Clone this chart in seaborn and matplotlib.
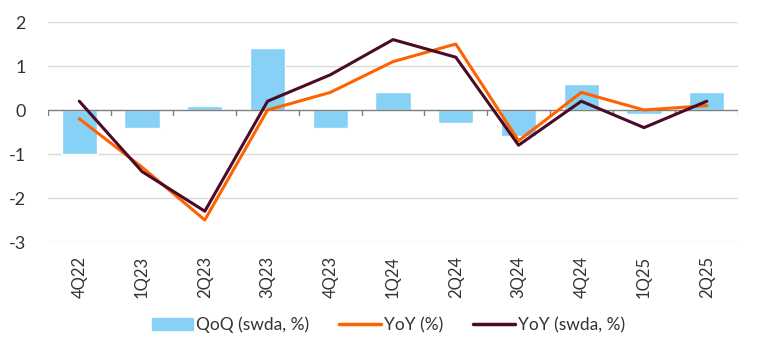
import pandas as pd
import matplotlib.pyplot as plt
import matplotlib.patches as patches
from matplotlib.lines import Line2D
import seaborn as sns
import numpy as np

quarters = ['4Q22', '1Q23', '2Q23', '3Q23', '4Q23', '1Q24', '2Q24', '3Q24', '4Q24', '1Q25', '2Q25']
qoq_swda = [-1.0, -0.4, 0.1, 1.4, -0.4, 0.4, -0.3, -0.6, 0.6, -0.1, 0.4]
yoy = [-0.2, -1.3, -2.5, 0.0, 0.4, 1.1, 1.5, -0.7, 0.4, 0.0, 0.1]
yoy_swda = [0.2, -1.4, -2.3, 0.2, 0.8, 1.6, 1.2, -0.8, 0.2, -0.4, 0.2]

dados = pd.DataFrame({'quarter': quarters, 'qoq': qoq_swda, 'yoy': yoy, 'yoy_swda': yoy_swda})
dados['pos'] = np.arange(len(dados))

blue = '#86D1F5'
orange = '#FF6200'
maroon = '#4B0A26'
txt = '#333333'

sns.set_style('white')
plt.rcParams['font.family'] = ['Lato', 'DejaVu Sans']

fig = plt.figure(figsize=(7.61, 3.58), dpi=100)
ax = fig.add_axes([0.063, 0.324, 0.907, 0.6145])

# grid
for v in [-3, -2, -1, 1, 2]:
    ax.axhline(v, color='#D9D9D9', lw=1, zorder=0)

sns.barplot(data=dados, x='quarter', y='qoq', color=blue, width=0.56,
            saturation=1, ax=ax, zorder=1)
ax.axhline(0, color='#7F7F7F', lw=1, zorder=2)
# petits traits entre les categories sur la ligne zero
for b in np.arange(-0.5, len(quarters), 1.0):
    ax.plot([b, b], [0, -0.11], color='#7F7F7F', lw=1, zorder=2)

sns.lineplot(data=dados, x='pos', y='yoy', color=orange, lw=2.2, ax=ax, zorder=3)
sns.lineplot(data=dados, x='pos', y='yoy_swda', color=maroon, lw=2.2, ax=ax, zorder=4)

ax.set_xlim(-0.5, len(quarters) - 0.5)
ax.set_ylim(-3, 2)
ax.set_yticks([-3, -2, -1, 0, 1, 2])
ax.set_yticklabels(['-3', '-2', '-1', '0', '1', '2'], fontsize=13, color=txt)
ax.set_xticks(dados['pos'])
ax.set_xticklabels(quarters, rotation=90, fontsize=12, color=txt)
ax.tick_params(axis='both', length=0)
ax.tick_params(axis='x', pad=10)
ax.tick_params(axis='y', pad=16)
ax.set_xlabel('')
ax.set_ylabel('')
sns.despine(ax=ax, left=True, bottom=True)

handles = [patches.Patch(color=blue),
           Line2D([0], [0], color=orange, lw=2.5),
           Line2D([0], [0], color=maroon, lw=2.5)]
labels = ['QoQ (swda, %)', 'YoY (%)', 'YoY (swda, %)']
fig.legend(handles, labels, loc='center', bbox_to_anchor=(0.51, 0.092), ncol=3,
           frameon=False, fontsize=12.5, labelcolor=txt, handlelength=2.4,
           handletextpad=0.15, columnspacing=1.75)

plt.savefig('out.png', dpi=100)
